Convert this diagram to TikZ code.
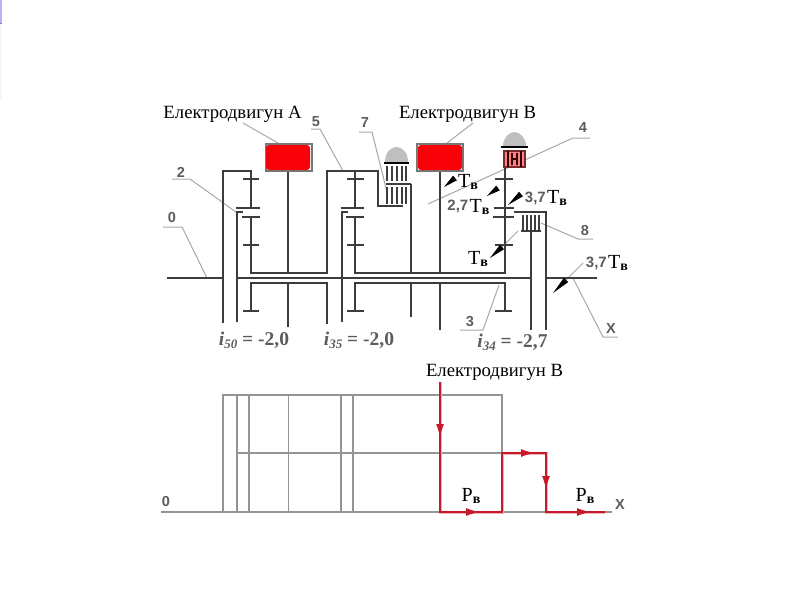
\documentclass[tikz,border=0pt]{standalone}
\usepackage{fontspec}
\setmainfont{Liberation Serif}
\newfontfamily\lsans{Liberation Sans}
\usetikzlibrary{calc,arrows.meta}
\definecolor{ink}{gray}{0.24}
\definecolor{thinl}{gray}{0.58}
\definecolor{lead}{gray}{0.66}
\definecolor{motorred}{rgb}{0.98,0,0.03}
\definecolor{pathred}{rgb}{0.78,0.1,0.16}
\definecolor{pathhalo}{rgb}{0.95,0.7,0.72}
\definecolor{numc}{gray}{0.36}
\tikzset{
 x=1pt,y=-1pt,
 shaft/.style={draw=ink,line width=1.9pt},
 fine/.style={draw=ink,line width=1.4pt},
 leader/.style={draw=lead,line width=1pt},
 motorbox/.style={draw=ink!70,line width=2pt},
 grid/.style={draw=thinl,line width=1.15pt},
 redhalo/.style={draw=pathhalo,line width=3pt},
 redpath/.style={draw=pathred,line width=1.8pt},
 redtip/.style={draw=pathred,line width=1.8pt,-{Latex[length=14pt,width=8pt]}},
 caption/.style={font=\fontsize{18.7}{18.7}\selectfont,text=black,inner sep=0pt},
 num/.style={font=\lsans\bfseries\fontsize{14.5}{14.5}\selectfont,text=numc,inner sep=0pt},
 ratio/.style={font=\bfseries\fontsize{19.5}{19.5}\selectfont,text=numc,inner sep=0pt},
 coef/.style={font=\lsans\bfseries\fontsize{15}{15}\selectfont,text=numc,inner sep=0pt},
 tq/.style={font=\fontsize{20}{20}\selectfont,text=black,inner sep=0pt},
}
\newcommand{\Tb}{T{\fontsize{14}{14}\selectfont\bfseries\raisebox{-2pt}{в}}}
\newcommand{\Pb}{P{\fontsize{14}{14}\selectfont\bfseries\raisebox{-2pt}{в}}}
\newcommand{\wedgearr}[2]{\fill[black] (#1) -- ($(#2)!3pt!90:(#1)$) -- ($(#2)!3pt!-90:(#1)$) -- cycle;}
\begin{document}
\begin{tikzpicture}
\useasboundingbox (0,0) rectangle (800,600);
\fill[white] (0,0) rectangle (800,600);
% corner remnant
\fill[blue!4] (0,24) rectangle (2,100);
\fill[blue!30!white] (0,0) rectangle (2,23);
\fill[gray] (0,23) rectangle (2,24);

% leaders
\draw[leader] (163,227) -- (182,227) -- (207,278);
\draw[leader] (172,179) -- (190,179) -- (236,212);
\draw[leader] (311,129) -- (320,129) -- (343,171);
\draw[leader] (359,132) -- (372,132) -- (387,192);
\draw[leader] (243,123) -- (278,143);
\draw[leader] (473,123) -- (447,143);
\draw[leader] (590,138) -- (573,138) -- (428,204);
\draw[leader] (593,239) -- (578,239) -- (541,223);
\draw[leader] (518,231) -- (497,252);
\draw[leader] (460,330) -- (483,330) -- (499,285);
\draw[leader] (583,263) -- (566,280);
\draw[leader] (618,337) -- (603,337) -- (573,278);

% main shaft
\draw[fine] (167,278) -- (223,278);
\draw[fine] (237,278) -- (531,278);
\draw[fine] (547,278) -- (597,278);

% first planetary set
\draw[shaft] (223,323) -- (223,171) -- (251,171) -- (251,208);
\draw[shaft] (251,217) -- (251,273) -- (327,273) -- (327,171) -- (378,171) -- (378,206) -- (403,206);
\draw[shaft] (251,311) -- (251,283) -- (327,283) -- (327,324);
\draw[fine] (237,322) -- (237,212) -- (243,212);
\draw[fine] (236,208) -- (260,208);
\draw[fine] (242,217) -- (260,217);
\draw[fine] (243,179) -- (259,179);
\draw[fine] (243,245) -- (259,245);
\draw[fine] (243,311) -- (259,311);

% second planetary set
\draw[shaft] (355,171) -- (355,208);
\draw[shaft] (355,217) -- (355,273) -- (505,273) -- (505,168);
\draw[shaft] (355,311) -- (355,283) -- (505,283) -- (505,311);
\draw[shaft] (342,322) -- (342,212) -- (348,212);
\draw[fine] (341,208) -- (364,208);
\draw[fine] (346,217) -- (364,217);
\draw[fine] (347,179) -- (364,179);
\draw[fine] (347,245) -- (364,245);
\draw[fine] (347,311) -- (364,311);

% third set
\draw[fine] (495,179) -- (513,179);
\draw[fine] (494,208) -- (514,208);
\draw[fine] (493,217) -- (514,217);
\draw[fine] (495,245) -- (513,245);
\draw[fine] (495,311) -- (512,311);
\draw[shaft] (514,212) -- (546,212) -- (546,330);
\draw[shaft] (531,231) -- (531,330);
\draw[shaft] (411,184) -- (411,273);
\draw[shaft] (411,283) -- (411,317);
\draw[fine] (386,184) -- (411,184);
\draw[shaft] (440,171) -- (440,273);
\draw[shaft] (440,283) -- (440,330);
\draw[fine] (288,171) -- (288,273);
\draw[fine] (288,283) -- (288,327);

% motors
\node[motorbox,fill=white,minimum width=46pt,minimum height=27pt,inner sep=0pt] (motorA) at (288.5,157) {};
\fill[motorred,rounded corners=3pt] (266,145) rectangle (310,170);
\node[motorbox,fill=white,minimum width=46pt,minimum height=27pt,inner sep=0pt] (motorB) at (440,157) {};
\fill[motorred,rounded corners=3pt] (418,145) rectangle (462,170);

% brake 7
\fill[gray!50] (385,162) .. controls (385,152) and (391,147) .. (396.5,147) .. controls (402,147) and (408,152) .. (408,162) -- cycle;
\draw[black,line width=2.4pt] (384,163) -- (409,163);
\foreach \bx in {387,392,397,402,406}{
  \draw[ink,line width=1.4pt] (\bx,166) -- (\bx,181);
  \draw[ink,line width=1.4pt] (\bx,187) -- (\bx,204);
}
% brake top right
\fill[gray!50] (503,146) .. controls (503,138) and (509,132) .. (514.5,132) .. controls (520,132) and (526,138) .. (526,146) -- cycle;
\draw[black,line width=2.4pt] (501,147) -- (528,147);
\fill[red!50] (504,151) rectangle (525,167);
\draw[ink!70!red,line width=1.2pt] (504,151) rectangle (525,167);
\foreach \bx in {508,521}{\draw[black!80!red,line width=1.4pt] (\bx,151) -- (\bx,167);}
\draw[black!80!red,line width=1.4pt] (512,153) -- (512,165) (517,153) -- (517,165) (512,159) -- (517,159);
% brake 8
\foreach \bx in {523,527,531,535,539}{\draw[ink,line width=1.4pt] (\bx,215) -- (\bx,231);}
\draw[fine] (521,231) -- (541,231);

% wedges
\wedgearr{444,187}{455,178}
\wedgearr{487,196}{498,188}
\wedgearr{508,205}{521,194}
\wedgearr{490,258}{502,247}
\wedgearr{553,293}{566,280}

% labels
\node[caption] (capA) at (232.5,114) {Електродвигун А};
\node[caption] (capB) at (467.5,114) {Електродвигун В};
\node[num] (n0) at (172,218) {0};
\node[num] (n2) at (181,172) {2};
\node[num] (n5) at (316,122) {5};
\node[num] (n7) at (365,123) {7};
\node[num] (n4) at (583,128) {4};
\node[num] (n8) at (585,231) {8};
\node[num] (n3) at (470,322) {3};
\node[num] (nX) at (611,329) {X};
\node[tq] (t1) at (468,182) {\Tb};
\node[coef,anchor=east] (c27) at (468.5,206.5) {2,7};
\node[tq,anchor=west] (t27) at (469.5,207) {\Tb};
\node[coef,anchor=east] (c37) at (546,198) {3,7};
\node[tq,anchor=west] (t37) at (547,198) {\Tb};
\node[tq] (t2) at (478,259) {\Tb};
\node[coef,anchor=east] (c37b) at (607,263) {3,7};
\node[tq,anchor=west] (t37b) at (608,263) {\Tb};
\node[ratio] (r50) at (254,340) {\textit{i}{\fontsize{13}{13}\selectfont\raisebox{-3pt}{\textit{50}}} = -2,0};
\node[ratio] (r35) at (359,340) {\textit{i}{\fontsize{13}{13}\selectfont\raisebox{-3pt}{\textit{35}}} = -2,0};
\node[ratio] (r34) at (512.5,342) {\textit{i}{\fontsize{13}{13}\selectfont\raisebox{-3pt}{\textit{34}}} = -2,7};

% lower diagram
\draw[grid] (161,512) -- (612,512);
\draw[grid] (223,512) -- (223,395) -- (502,395) -- (502,453);
\draw[grid] (237,453) -- (502,453);
\foreach \gx in {237,249,288.5,341,353}{\draw[grid] (\gx,395) -- (\gx,512);}
\draw[redhalo] (440,382) -- (440,512) -- (502,512) -- (502,453) -- (546,453) -- (546,512) -- (605,512);
\draw[redpath] (440,382) -- (440,512) -- (502,512) -- (502,453) -- (546,453) -- (546,512) -- (605,512);
\draw[redtip] (440,420) -- (440,438);
\draw[redtip] (462,512) -- (480,512);
\draw[redtip] (517,453) -- (535,453);
\draw[redtip] (546,472) -- (546,490);
\draw[redtip] (573,512) -- (591,512);
\node[caption] (capB2) at (494.5,372) {Електродвигун В};
\node[tq] (p1) at (471,496) {\Pb};
\node[tq] (p2) at (585,496) {\Pb};
\node[num] (n0b) at (166,501) {0};
\node[num] (nXb) at (620,505) {X};
\end{tikzpicture}
\end{document}
